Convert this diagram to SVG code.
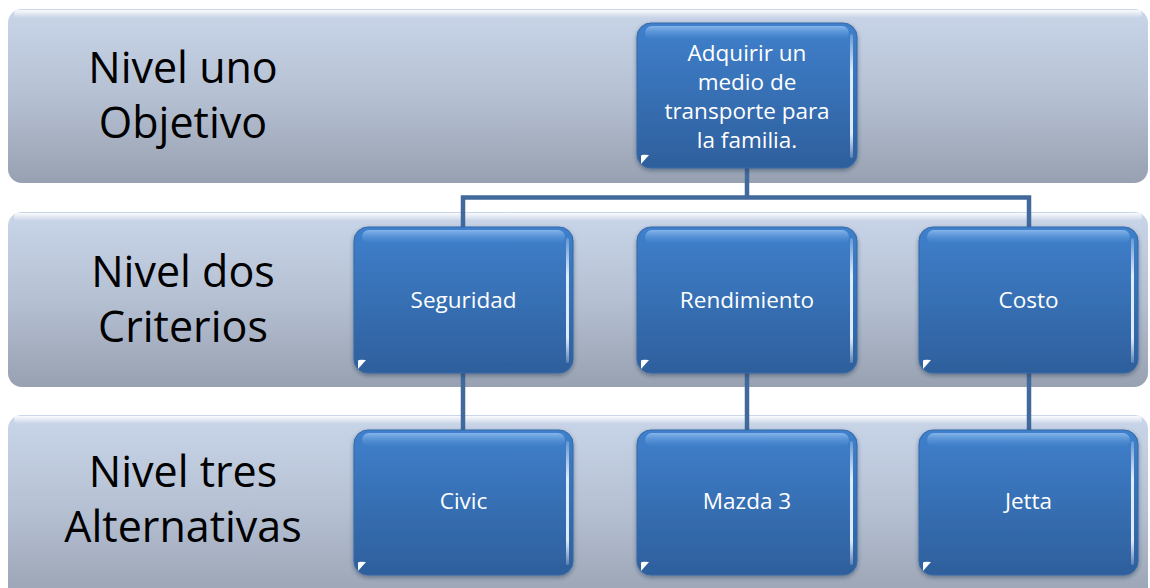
<svg xmlns="http://www.w3.org/2000/svg" width="1150" height="588" viewBox="0 0 1150 588">
<defs>
<linearGradient id="bandG" x1="0" y1="0" x2="0" y2="1">
<stop offset="0" stop-color="#C9D5E8"/>
<stop offset="0.5" stop-color="#B5C0D3"/>
<stop offset="1" stop-color="#98A1B1"/>
</linearGradient>
<linearGradient id="bandTop" x1="0" y1="0" x2="0" y2="1">
<stop offset="0" stop-color="#FFFFFF" stop-opacity="0.9"/>
<stop offset="1" stop-color="#FFFFFF" stop-opacity="0"/>
</linearGradient>
<linearGradient id="nodeG" x1="0" y1="0" x2="0" y2="1">
<stop offset="0" stop-color="#3F80CC"/>
<stop offset="1" stop-color="#2E5F9C"/>
</linearGradient>
<linearGradient id="nodeHl" x1="0" y1="0" x2="0" y2="1">
<stop offset="0" stop-color="#8EBBEE" stop-opacity="0.9"/>
<stop offset="1" stop-color="#5A95DA" stop-opacity="0"/>
</linearGradient>
<linearGradient id="rimG" x1="0" y1="0" x2="0" y2="1">
<stop offset="0" stop-color="#FFFFFF" stop-opacity="0.2"/>
<stop offset="0.3" stop-color="#E6F2FF" stop-opacity="0.95"/>
<stop offset="0.8" stop-color="#E6F2FF" stop-opacity="0.95"/>
<stop offset="1" stop-color="#FFFFFF" stop-opacity="0.2"/>
</linearGradient>
<filter id="sh" x="-10%" y="-10%" width="120%" height="125%">
<feDropShadow dx="0" dy="2" stdDeviation="2" flood-color="#1E2D45" flood-opacity="0.45"/>
</filter>
</defs>
<style>
.band{fill:url(#bandG);}
.bandtop{fill:url(#bandTop);}
.lbl{font-family:"Open Sans","Liberation Sans",sans-serif;font-size:43px;fill:#000;text-anchor:middle;}
.node{fill:url(#nodeG);stroke:#3368A8;stroke-width:1;filter:url(#sh);}
.hl{fill:url(#nodeHl);}
.rim{fill:url(#rimG);}
.tri{fill:#FFFFFF;}
.nt{font-family:"Open Sans","Liberation Sans",sans-serif;font-size:22.5px;fill:#FFFFFF;text-anchor:middle;}
.con{fill:none;stroke:#41699C;stroke-width:4.5;}
</style>
<rect width="1150" height="588" fill="#FFFFFF"/>

<g id="band1">
<rect class="band" x="8" y="9" width="1140" height="174" rx="14"/>
<rect class="bandtop" x="14" y="10" width="1128" height="8" rx="4"/>
<text class="lbl" x="183" y="83">Nivel uno</text>
<text class="lbl" x="183" y="138">Objetivo</text>
</g>
<g id="band2">
<rect class="band" x="8" y="212" width="1140" height="175" rx="14"/>
<rect class="bandtop" x="14" y="213" width="1128" height="8" rx="4"/>
<text class="lbl" x="183" y="287">Nivel dos</text>
<text class="lbl" x="183" y="342">Criterios</text>
</g>
<g id="band3">
<rect class="band" x="8" y="415" width="1140" height="190" rx="14"/>
<rect class="bandtop" x="14" y="416" width="1128" height="8" rx="4"/>
<text class="lbl" x="183" y="487">Nivel tres</text>
<text class="lbl" x="183" y="542">Alternativas</text>
</g>

<g id="connectors">
<path class="con" d="M747 168 V197.5 M463 227 V197.5 H1029 V227"/>
<path class="con" d="M463 373 V430"/>
<path class="con" d="M747 373 V430"/>
<path class="con" d="M1029 373 V430"/>
</g>

<g id="n-objetivo">
<rect class="node" x="637" y="23" width="220" height="145" rx="14"/>
<rect class="hl" x="645" y="26" width="204" height="14" rx="7"/>
<rect class="rim" x="850" y="34" width="3" height="124" rx="1.5"/>
<path class="tri" d="M641 164 V156 Q641 154 649 155 Z"/>
<text class="nt" x="747" y="61">Adquirir un</text>
<text class="nt" x="747" y="90">medio de</text>
<text class="nt" x="747" y="119">transporte para</text>
<text class="nt" x="747" y="148">la familia.</text>
</g>

<g id="n-seguridad">
<rect class="node" x="354" y="227" width="219" height="146" rx="14"/>
<rect class="hl" x="362" y="230" width="203" height="14" rx="7"/>
<rect class="rim" x="566" y="238" width="3" height="125" rx="1.5"/>
<path class="tri" d="M358 369 V361 Q358 359 366 360 Z"/>
<text class="nt" x="463.5" y="308">Seguridad</text>
</g>

<g id="n-rendimiento">
<rect class="node" x="637" y="227" width="220" height="146" rx="14"/>
<rect class="hl" x="645" y="230" width="204" height="14" rx="7"/>
<rect class="rim" x="850" y="238" width="3" height="125" rx="1.5"/>
<path class="tri" d="M641 369 V361 Q641 359 649 360 Z"/>
<text class="nt" x="747" y="308">Rendimiento</text>
</g>

<g id="n-costo">
<rect class="node" x="919" y="227" width="219" height="146" rx="14"/>
<rect class="hl" x="927" y="230" width="203" height="14" rx="7"/>
<rect class="rim" x="1131" y="238" width="3" height="125" rx="1.5"/>
<path class="tri" d="M923 369 V361 Q923 359 931 360 Z"/>
<text class="nt" x="1028.5" y="308">Costo</text>
</g>

<g id="n-civic">
<rect class="node" x="354" y="430" width="219" height="145" rx="14"/>
<rect class="hl" x="362" y="433" width="203" height="14" rx="7"/>
<rect class="rim" x="566" y="441" width="3" height="124" rx="1.5"/>
<path class="tri" d="M358 571 V563 Q358 561 366 562 Z"/>
<text class="nt" x="463.5" y="509">Civic</text>
</g>

<g id="n-mazda">
<rect class="node" x="637" y="430" width="220" height="145" rx="14"/>
<rect class="hl" x="645" y="433" width="204" height="14" rx="7"/>
<rect class="rim" x="850" y="441" width="3" height="124" rx="1.5"/>
<path class="tri" d="M641 571 V563 Q641 561 649 562 Z"/>
<text class="nt" x="747" y="509">Mazda 3</text>
</g>

<g id="n-jetta">
<rect class="node" x="919" y="430" width="219" height="145" rx="14"/>
<rect class="hl" x="927" y="433" width="203" height="14" rx="7"/>
<rect class="rim" x="1131" y="441" width="3" height="124" rx="1.5"/>
<path class="tri" d="M923 571 V563 Q923 561 931 562 Z"/>
<text class="nt" x="1028.5" y="509">Jetta</text>
</g>
</svg>
